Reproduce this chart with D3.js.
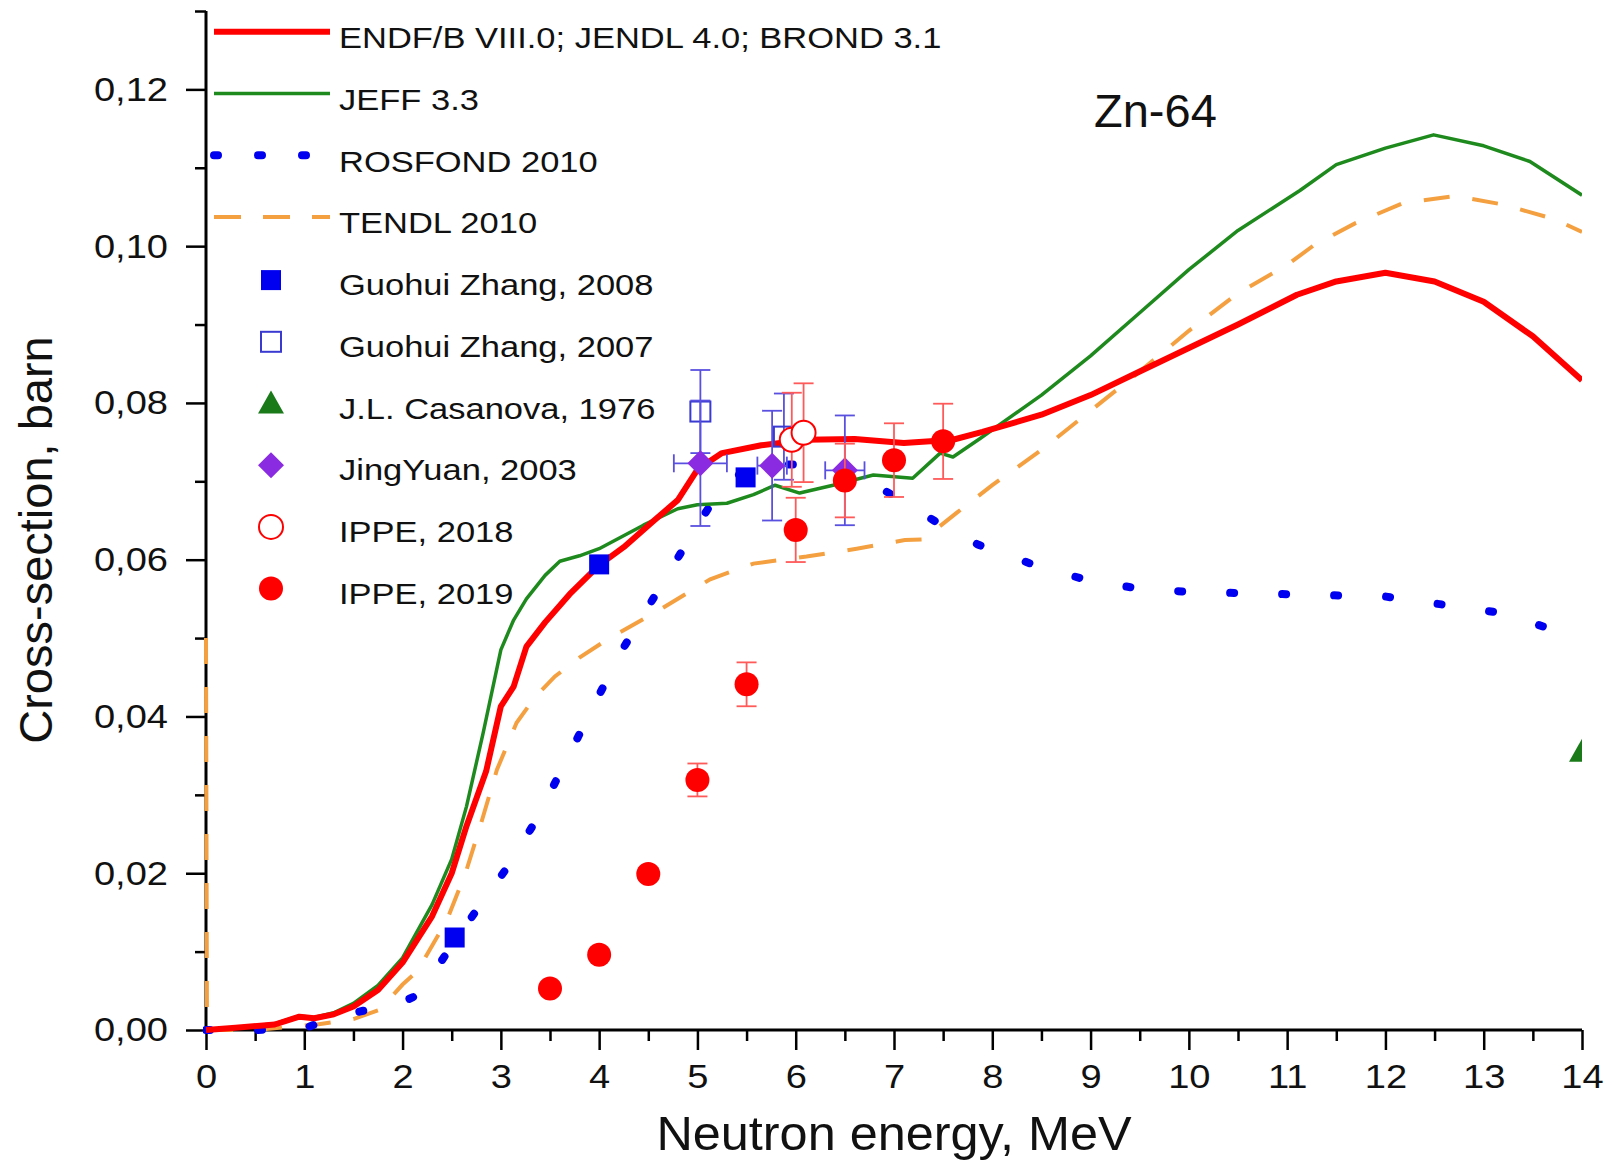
<!DOCTYPE html>
<html><head><meta charset="utf-8">
<script src="https://cdn.jsdelivr.net/npm/d3@7"></script>
<style>
body{margin:0;background:#fff}
svg{display:block}
text{font-family:"Liberation Sans",Arial,Helvetica,sans-serif;fill:#111}
</style>
</head><body>
<svg id="chart" width="1614" height="1164"></svg>
<script>
// ---------- DATA ----------
const xMajorTicks = [0,1,2,3,4,5,6,7,8,9,10,11,12,13,14];
const xMinorTicks = [0.5,1.5,2.5,3.5,4.5,5.5,6.5,7.5,8.5,9.5,10.5,11.5,12.5,13.5];
const yMajorTicks = [0,0.02,0.04,0.06,0.08,0.10,0.12];
const yMinorTicks = [0.01,0.03,0.05,0.07,0.09,0.11,0.13];

// ENDF/B VIII.0; JENDL 4.0; BROND 3.1
const endfE  = [0,0.3,0.7,0.95,1.1,1.3,1.5,1.75,2.0,2.3,2.5,2.65,2.85,3.0,3.13,3.26,3.45,3.7,4.0,4.25,4.55,4.8,5.0,5.25,5.65,6.1,6.6,7.1,7.6,7.9,8.5,9.0,9.5,10.0,10.5,11.1,11.5,12.0,12.5,13.0,13.5,14.0];
const endfXS = [0,0.0003,0.0007,0.0017,0.0015,0.0020,0.0030,0.0051,0.0086,0.0145,0.0200,0.0260,0.0330,0.0413,0.0438,0.0489,0.0520,0.0556,0.0593,0.0616,0.0649,0.0676,0.0715,0.0736,0.0746,0.0753,0.0754,0.0749,0.0753,0.0763,0.0785,0.0810,0.0840,0.0870,0.0900,0.0938,0.0955,0.0966,0.0955,0.0929,0.0885,0.0829];

// JEFF 3.3
const jeffE  = [0,0.3,0.7,0.95,1.1,1.3,1.5,1.75,2.0,2.3,2.5,2.65,2.82,3.0,3.13,3.26,3.45,3.6,3.8,4.0,4.45,4.8,5.0,5.3,5.57,5.79,6.04,6.38,6.79,7.19,7.47,7.6,7.88,8.5,9.0,9.5,10.0,10.5,11.13,11.5,12.0,12.49,13.0,13.47,14.0];
const jeffXS = [0,0.0003,0.0008,0.0018,0.0016,0.0022,0.0034,0.0057,0.0092,0.0160,0.0218,0.0285,0.0379,0.0485,0.0523,0.0550,0.0580,0.0598,0.0605,0.0614,0.0644,0.0665,0.0670,0.0672,0.0683,0.0695,0.0685,0.0695,0.0708,0.0704,0.0736,0.0731,0.0755,0.0810,0.0860,0.0915,0.0970,0.1020,0.1071,0.1104,0.1125,0.1142,0.1128,0.1108,0.1065];

// ROSFOND 2010
const rosE  = [0,0.5,1.0,1.3,1.72,1.95,2.16,2.45,2.77,3.08,3.35,3.57,3.79,4.01,4.24,4.5,4.77,5.03,5.3,5.7,6.16,6.58,7.03,7.47,7.86,8.5,9.0,9.5,10.0,11.0,12.0,12.74,13.18,13.6,14.0];
const rosXS = [0,0,0.0002,0.0016,0.0028,0.0033,0.0045,0.0098,0.0156,0.0210,0.0266,0.0320,0.0375,0.0430,0.0486,0.0540,0.0596,0.0650,0.0702,0.0722,0.0721,0.0712,0.0679,0.0645,0.0619,0.0590,0.0573,0.0563,0.0559,0.0556,0.0553,0.0540,0.0532,0.0515,0.0503];

// TENDL 2010
const tendlE  = [0,0.01,0.5,1.13,1.5,1.77,2.0,2.15,2.45,2.64,2.79,2.96,3.16,3.35,3.55,3.8,4.08,4.6,5.13,5.57,6.11,6.62,7.11,7.3,7.64,8.0,8.5,9.0,9.5,10.0,10.5,11.0,11.27,11.69,12.18,12.71,13.2,13.73,14.0];
const tendlXS = [0.05,0,0,0.0007,0.0014,0.0026,0.0058,0.0075,0.0140,0.0200,0.0260,0.0332,0.0392,0.0425,0.0451,0.0475,0.0498,0.0535,0.0575,0.0595,0.0604,0.0614,0.0625,0.0626,0.0660,0.0695,0.0740,0.0790,0.0840,0.0892,0.0940,0.0976,0.1001,0.1029,0.1055,0.1064,0.1053,0.1034,0.1018];

// Experimental data
const gz2008E = [2.53,4.0,5.49];
const gz2008XS = [0.0118,0.0594,0.0705];

const gz2007E = [5.03,5.88];
const gz2007XS = [0.0789,0.0757];
const gz2007Err = [0.0053,0.0055];

const casE = [14.0];
const casXS = [0.0355];

const jyE = [5.03,5.76,6.5];
const jyXS = [0.0723,0.0720,0.0714];
const jyErr = [0.0080,0.0070,0.0070];
const jyXErr = [0.27,0.15,0.20];

const ippe18E = [5.96,6.08];
const ippe18XS = [0.0753,0.0762];
const ippe18Err = [0.0060,0.0063];

const ippe19E = [3.5,4.0,4.5,5.0,5.5,6.0,6.5,7.0,7.5];
const ippe19XS = [0.0053,0.0096,0.0199,0.0319,0.0441,0.0638,0.0701,0.0727,0.0751];
const ippe19Err = [0,0,0.0007,0.0021,0.0028,0.0041,0.0047,0.0047,0.0048];

const legendLabels = ["ENDF/B VIII.0; JENDL 4.0; BROND 3.1","JEFF 3.3","ROSFOND 2010","TENDL 2010",
  "Guohui Zhang, 2008","Guohui Zhang, 2007","J.L. Casanova, 1976","JingYuan, 2003","IPPE, 2018","IPPE, 2019"];
const titleText = "Zn-64";
const xTitle = "Neutron energy, MeV";
const yTitle = "Cross-section, barn";

// ---------- CHART ----------
const M = {left:206, right:1582, top:11, bottom:1030};
const x = d3.scaleLinear().domain([0,14]).range([M.left, M.right]);
const y = d3.scaleLinear().domain([0,0.13]).range([M.bottom, M.top]);
const svg = d3.select('#chart');
const fmtY = d => d3.format('.2f')(d).replace('.', ',');

const C = {red:'#ff0000', green:'#1e8a1e', blue:'#0000f0', orange:'#f4a040', purple:'#8a2be2',
  openBlue:'#3a3ad0', ebBlue:'#5a50e0', ebRed:'#ff5a5a', tri:'#1a7a1a'};

const TICK_FS = 34, TICK_SX = 1.12;

function styleAxis(g){
  g.selectAll('.domain').attr('stroke','#000').attr('stroke-width',3);
  g.selectAll('.tick line').attr('stroke','#000').attr('stroke-width',2.5);
  g.selectAll('.tick text').attr('font-size',TICK_FS).attr('fill','#111')
    .attr('font-family','"Liberation Sans",Arial,sans-serif');
}
const gxMin = svg.append('g').attr('transform',`translate(0,${M.bottom})`)
  .call(d3.axisBottom(x).tickValues(xMinorTicks).tickSize(11).tickSizeOuter(0).tickFormat(''));
gxMin.select('.domain').remove();
styleAxis(gxMin);
const gx = svg.append('g').attr('transform',`translate(0,${M.bottom})`)
  .call(d3.axisBottom(x).tickValues(xMajorTicks).tickSize(20).tickSizeOuter(0).tickPadding(14).tickFormat(d3.format('d')));
styleAxis(gx);
gx.selectAll('.tick text').each(function(){
  const t = d3.select(this); const yy = +t.attr('y');
  t.attr('y',0).attr('transform',`translate(0,${yy}) scale(${TICK_SX},1)`);
});

const gyMin = svg.append('g').attr('transform',`translate(${M.left},0)`)
  .call(d3.axisLeft(y).tickValues(yMinorTicks).tickSize(11).tickSizeOuter(0).tickFormat(''));
gyMin.select('.domain').remove();
styleAxis(gyMin);
const gy = svg.append('g').attr('transform',`translate(${M.left},0)`)
  .call(d3.axisLeft(y).tickValues(yMajorTicks).tickSize(20).tickSizeOuter(0).tickPadding(18).tickFormat(fmtY));
styleAxis(gy);
gy.selectAll('.tick text').each(function(){
  const t = d3.select(this); const xx = +t.attr('x');
  t.attr('x',0).attr('transform',`translate(${xx},0) scale(${TICK_SX},1)`);
});
gy.select('.domain').attr('d', `M0,${M.bottom}V${M.top}`);
gx.select('.domain').attr('d', `M${M.left},0H${M.right}`);

// axis titles
svg.append('text').attr('transform',`translate(${(M.left+M.right)/2},1150) scale(1.05,1)`)
  .attr('text-anchor','middle').attr('font-size',48).text(xTitle);
svg.append('text').attr('transform','translate(52,540) rotate(-90)')
  .attr('text-anchor','middle').attr('font-size',47).text(yTitle);

// title
svg.append('text').attr('x',1094).attr('y',127).attr('font-size',47).text(titleText);

// clip
svg.append('clipPath').attr('id','clip').append('rect')
  .attr('x', M.left-3).attr('y', 0).attr('width', M.right-M.left+3).attr('height', M.bottom+4);
const plot = svg.append('g').attr('clip-path','url(#clip)');

const line = d3.line().x(d=>x(d[0])).y(d=>y(d[1]));
const zip = (a,b) => a.map((v,i)=>[v,b[i]]);

plot.append('path').datum(zip(tendlE,tendlXS)).attr('d',line).attr('fill','none')
  .attr('stroke',C.orange).attr('stroke-width',4).attr('stroke-dasharray','26 23');
plot.append('path').datum(zip(rosE,rosXS)).attr('d',line).attr('fill','none')
  .attr('stroke',C.blue).attr('stroke-width',8).attr('stroke-linecap','round').attr('stroke-dasharray','4 48');
plot.append('path').datum(zip(jeffE,jeffXS)).attr('d',line).attr('fill','none')
  .attr('stroke',C.green).attr('stroke-width',3.5).attr('stroke-linejoin','round');
plot.append('path').datum(zip(endfE,endfXS)).attr('d',line).attr('fill','none')
  .attr('stroke',C.red).attr('stroke-width',6).attr('stroke-linejoin','round');

// error bars
function yErrBars(E, XS, ERR, color){
  const g = plot.append('g').attr('stroke',color).attr('stroke-width',1.8).attr('fill','none');
  E.forEach((e,i)=>{
    if(!ERR[i]) return;
    const cx = x(e), y1 = y(XS[i]+ERR[i]), y2 = y(XS[i]-ERR[i]);
    g.append('line').attr('x1',cx).attr('x2',cx).attr('y1',y1).attr('y2',y2);
    g.append('line').attr('x1',cx-10).attr('x2',cx+10).attr('y1',y1).attr('y2',y1);
    g.append('line').attr('x1',cx-10).attr('x2',cx+10).attr('y1',y2).attr('y2',y2);
  });
}
function xErrBars(E, XS, ERR, color){
  const g = plot.append('g').attr('stroke',color).attr('stroke-width',1.8).attr('fill','none');
  E.forEach((e,i)=>{
    const cy = y(XS[i]), x1 = x(e-ERR[i]), x2 = x(e+ERR[i]);
    g.append('line').attr('x1',x1).attr('x2',x2).attr('y1',cy).attr('y2',cy);
    g.append('line').attr('x1',x1).attr('x2',x1).attr('y1',cy-9).attr('y2',cy+9);
    g.append('line').attr('x1',x2).attr('x2',x2).attr('y1',cy-9).attr('y2',cy+9);
  });
}

const shapes = {
  square: (g,cx,cy,fill,stroke)=> g.append('rect').attr('x',cx-10).attr('y',cy-10).attr('width',20).attr('height',20)
      .attr('fill',fill).attr('stroke',stroke).attr('stroke-width',stroke==='none'?0:2),
  diamond: (g,cx,cy,fill)=> g.append('path').attr('d',`M${cx},${cy-13}L${cx+13},${cy}L${cx},${cy+13}L${cx-13},${cy}Z`).attr('fill',fill),
  circle: (g,cx,cy,fill,stroke)=> g.append('circle').attr('cx',cx).attr('cy',cy).attr('r',12)
      .attr('fill',fill).attr('stroke',stroke).attr('stroke-width',stroke==='none'?0:2),
  triangle: (g,cx,cy,fill)=> g.append('path').attr('d',`M${cx},${cy-13}L${cx+13},${cy+10}L${cx-13},${cy+10}Z`).attr('fill',fill)
};
function markers(E, XS, shape, fill, stroke='none'){
  const g = plot.append('g');
  E.forEach((e,i)=> shapes[shape](g, x(e), y(XS[i]), fill, stroke));
}

markers(gz2008E, gz2008XS, 'square', C.blue);
yErrBars(gz2007E, gz2007XS, gz2007Err, C.ebBlue);
markers(gz2007E, gz2007XS, 'square', 'none', C.openBlue);
yErrBars(jyE, jyXS, jyErr, C.ebBlue);
xErrBars(jyE, jyXS, jyXErr, C.ebBlue);
markers(jyE, jyXS, 'diamond', C.purple);
markers(casE, casXS, 'triangle', C.tri);
yErrBars(ippe18E, ippe18XS, ippe18Err, C.ebRed);
markers(ippe18E, ippe18XS, 'circle', '#fff', C.red);
yErrBars(ippe19E, ippe19XS, ippe19Err, C.ebRed);
markers(ippe19E, ippe19XS, 'circle', C.red);

// legend
const LEG_FS = 30, LEG_SX = 1.15;
const leg = svg.append('g');
const legStyles = [
  {t:'line', stroke:C.red, w:6},
  {t:'line', stroke:C.green, w:3.5},
  {t:'line', stroke:C.blue, w:8, dash:'4 40', cap:'round'},
  {t:'line', stroke:C.orange, w:4, dash:'27 22'},
  {t:'mark', shape:'square', fill:C.blue, stroke:'none'},
  {t:'mark', shape:'square', fill:'none', stroke:C.openBlue},
  {t:'mark', shape:'triangle', fill:C.tri},
  {t:'mark', shape:'diamond', fill:C.purple},
  {t:'mark', shape:'circle', fill:'#fff', stroke:C.red},
  {t:'mark', shape:'circle', fill:C.red, stroke:'none'}
];
legendLabels.forEach((lab,i)=>{
  const base = 48.3 + 61.7*i;
  const s = legStyles[i];
  if(s.t==='line'){
    const l = leg.append('line').attr('x1',214).attr('x2',330).attr('y1',base-16.5).attr('y2',base-16.5)
      .attr('stroke',s.stroke).attr('stroke-width',s.w);
    if(s.dash) l.attr('stroke-dasharray',s.dash);
    if(s.cap) l.attr('stroke-linecap',s.cap);
  } else {
    shapes[s.shape](leg, 271, base-15, s.fill, s.stroke);
  }
  leg.append('text').attr('transform',`translate(339,${base}) scale(${LEG_SX},1)`)
    .attr('font-size',LEG_FS).text(lab);
});
</script>
</body></html>
